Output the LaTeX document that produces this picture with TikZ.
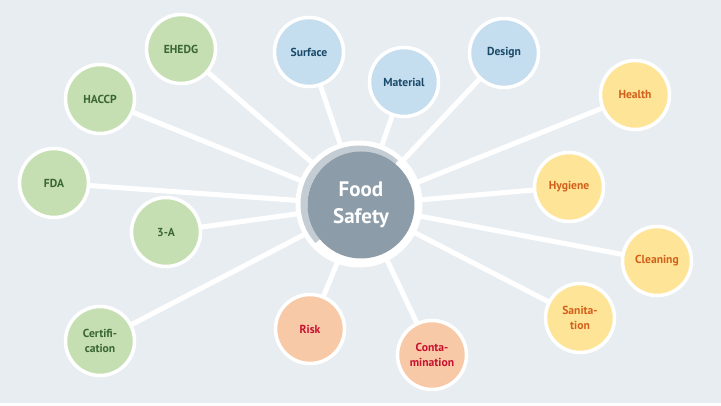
\documentclass[tikz,border=0pt]{standalone}
\usepackage{fontspec}
\setmainfont{PT Sans}
\usepackage{tikz}
\usetikzlibrary{positioning, backgrounds}
\definecolor{bggray}{HTML}{E8EDF2}
\definecolor{greenfill}{HTML}{C5DFB3}
\definecolor{greentext}{HTML}{3A6632}
\definecolor{bluefill}{HTML}{C4DDEF}
\definecolor{bluetext}{HTML}{1A4A6A}
\definecolor{yellowfill}{HTML}{FEE497}
\definecolor{yellowtext}{HTML}{D2601A}
\definecolor{peachfill}{HTML}{F8C9A6}
\definecolor{peachtext}{HTML}{C8102E}
\definecolor{hubdark}{HTML}{8C9CA8}
\definecolor{hublight}{HTML}{C5CDD4}
\tikzstyle{topic} = [circle, minimum size=69pt, inner sep=0pt, draw=white, line width=3.5pt, align=center, font=\fontsize{11.6}{14.5}\selectfont\bfseries]
\tikzstyle{standard} = [topic, fill=greenfill, text=greentext]
\tikzstyle{equipment} = [topic, fill=bluefill, text=bluetext]
\tikzstyle{hygienic} = [topic, fill=yellowfill, text=yellowtext]
\tikzstyle{hazard} = [topic, fill=peachfill, text=peachtext]
\tikzstyle{hub} = [circle, minimum size=107pt, inner sep=0pt, fill=hubdark, text=white, align=center, font=\fontsize{21}{27}\selectfont\bfseries]
\tikzstyle{spoke} = [draw=white, line width=5pt]

\begin{document}
\begin{tikzpicture}[x=1pt, y=-1pt]
\useasboundingbox (0,0) rectangle (721,406);

% Hub
\node (ring) [circle, minimum size=127pt, inner sep=0pt, fill=white] at (359,204) {};
\draw [hublight, line width=7pt] (ring.center) ++(-48:55) arc (-48:-222:55);
\node (food) [hub] at (361,205) {Food\\Safety};

% Standards
\node (ehedg) [standard] at (181,49) {EHEDG};
\node (haccp) [standard] at (100,99) {HACCP};
\node (fda) [standard] at (54,183) {FDA};
\node (threea) [standard] at (166,232) {3-A};
\node (cert) [standard] at (100,341) {Certifi-\\cation};

% Equipment
\node (surface) [equipment] at (309,52) {Surface};
\node (material) [equipment] at (404,82) {Material};
\node (design) [equipment] at (504,53) {Design};

% Hygiene
\node (health) [hygienic] at (635,95) {Health};
\node (hygiene) [hygienic] at (569,187) {Hygiene};
\node (cleaning) [hygienic] at (657,261) {Cleaning};
\node (sanitation) [hygienic] at (580,318) {Sanita-\\tion};

% Hazards
\node (risk) [hazard] at (310,329) {Risk};
\node (contam) [hazard] at (432,355) {Conta-\\mination};

% Spokes
\begin{scope}[on background layer]
\fill [bggray] (0,0) rectangle (721,403);
\draw [spoke] (food.center) -- (ehedg.center);
\draw [spoke] (food.center) -- (haccp.center);
\draw [spoke] (food.center) -- (fda.center);
\draw [spoke] (food.center) -- (threea.center);
\draw [spoke] (food.center) -- (cert.center);
\draw [spoke] (food.center) -- (surface.center);
\draw [spoke] (food.center) -- (material.center);
\draw [spoke] (food.center) -- (design.center);
\draw [spoke] (food.center) -- (health.center);
\draw [spoke] (food.center) -- (hygiene.center);
\draw [spoke] (food.center) -- (cleaning.center);
\draw [spoke] (food.center) -- (sanitation.center);
\draw [spoke] (food.center) -- (risk.center);
\draw [spoke] (food.center) -- (contam.center);
\end{scope}

\end{tikzpicture}
\end{document}
